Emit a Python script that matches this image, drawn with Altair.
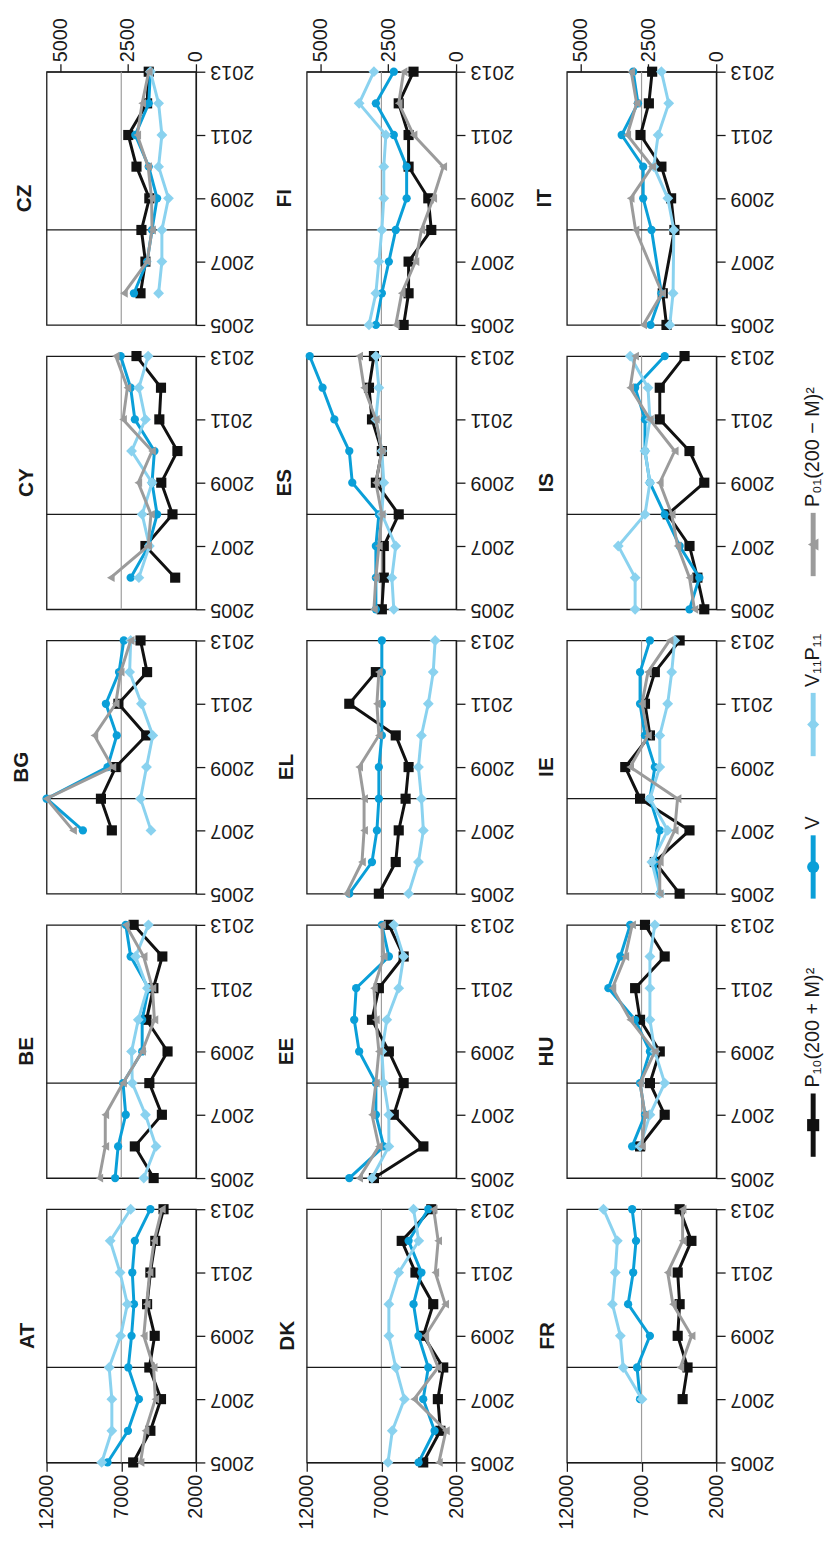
import altair as alt
import pandas as pd

YEARS = [2005, 2006, 2007, 2008, 2009, 2010, 2011, 2012, 2013]
# grid rows (as drawn), left to right
GRID_ROWS = [["CZ", "FI", "IT"],
             ["CY", "ES", "IS"],
             ["BG", "EL", "IE"],
             ["BE", "EE", "HU"],
             ["AT", "DK", "FR"]]

P10 = {
    "AT": [6200, 5050, 4340, 5120, 4760, 5270, 5050, 4720, 4170],
    "BE": [4830, 6090, 4280, 5120, 3900, 5310, 4850, 4250, 6170],
    "BG": [None, None, 7630, 8360, 7370, 5330, 7190, 5270, 5710],
    "CY": [None, 3390, 5380, 3570, 4320, 3240, 4450, 4340, 5980],
    "CZ": [None, 5710, 5380, 5650, 5120, 5980, 6530, 5270, 5160],
    "DK": [4200, 3050, 3220, 2860, 4190, 3530, 4720, 5640, 3660],
    "EE": [7500, 4190, 6170, 5510, 6500, 7630, 7170, 5510, 6500],
    "EL": [7170, 6040, 5840, 5380, 5180, 6040, 9150, 7370, None],
    "ES": [6970, 6840, 6840, 5840, 7370, 6970, 7630, 7830, 7500],
    "FI": [5510, 5180, 5180, 3660, 3860, 5180, 5180, 5840, 4850],
    "FR": [None, None, 4250, 3920, 4580, 4450, 4580, 3660, 4450],
    "HU": [None, 7100, 5450, 6440, 5780, 7100, 7430, 5450, 6770],
    "IE": [4450, 6110, 3790, 7100, 8090, 6440, 6770, 6110, 4450],
    "IS": [2800, 3260, 3790, 5250, 2800, 3790, 5780, 5780, 4120],
    "IT": [5330, 5580, None, 4800, 5020, 5670, 7070, 6510, 6290],
}
V = {
    "AT": [7920, 6550, 5820, 6530, 6310, 6150, 6260, 6090, 5050],
    "BE": [7410, 7210, 6700, 6880, 5600, 5600, 5180, 6370, 6700],
    "BG": [None, None, 9570, 12000, 7920, 7300, 8030, 7150, 6830],
    "CY": [None, 6370, 5160, 4600, 4940, 4780, 6090, 6370, 7040],
    "CZ": [None, 6150, 5270, 4940, 4600, 5160, 6060, 5160, 5050],
    "DK": [4510, 3440, 4200, 3860, 4520, 4850, 4320, 5180, 3860],
    "EE": [9150, 6840, 7370, 7370, 8490, 8820, 8690, 6500, 6970],
    "EL": [9150, 7630, 7300, 7170, 7170, 6970, 6970, 6970, 6970],
    "ES": [7370, 7370, 7370, 7170, 8950, 9150, 10150, 10940, 11800],
    "FI": [7370, 6970, 6500, 6040, 5310, 5310, 6170, 7370, 6170],
    "FR": [None, None, 7100, 7300, 6440, 7900, 7560, 7370, 7630],
    "HU": [None, 7630, 6770, 7100, 6440, 7430, 9220, 8420, 7760],
    "IE": [5780, 6110, 5780, 6440, 6110, 6770, 7100, 7100, 6440],
    "IS": [3790, 3130, 4450, 5450, 6440, 6770, 6770, 7430, 5450],
    "IT": [6400, 5670, None, 6330, 6890, 6890, 8330, 7240, 7560],
}
V11P11 = {
    "AT": [8310, 7630, 7630, 7810, 7040, 6590, 7080, 7740, 6370],
    "BE": [5490, 4670, 5380, 6260, 6310, 5860, 5250, 6040, 5180],
    "BG": [None, None, 5010, 5710, 5310, 4890, 5650, 6440, 6370],
    "CY": [None, 5820, 5120, 5600, 4940, 6310, 5380, 5820, 5200],
    "CZ": [None, 4500, 4280, 4280, 3840, 4500, 4280, 4500, 5050],
    "DK": [6560, 6270, 5460, 6040, 6500, 6500, 5840, 4500, 4850],
    "EE": [7630, 6500, 6500, 6840, 6970, 6640, 5840, 5510, 6170],
    "EL": [5180, 4520, 4190, 4320, 4520, 4320, 3860, 3530, 3400],
    "ES": [6170, 6300, 6040, 6970, 6840, 6970, 7370, 7170, 7370],
    "FI": [7830, 7370, 7170, 6970, 6840, 6840, 6700, 8490, 7500],
    "FR": [None, None, 6970, 8230, 8420, 8950, 8760, 8620, 9550],
    "HU": [None, 7100, 6440, 5450, 6110, 6440, 6440, 6440, 6110],
    "IE": [5780, 6310, 5250, 6440, 5780, 5780, 5250, 4980, 4780],
    "IS": [7430, 7430, 8560, 6770, 6440, 6770, 6440, 6570, 7760],
    "IT": [5110, 4890, None, 4840, 5240, 6180, 5890, 5180, 5670],
}
P01 = {
    "AT": [5710, 5380, 4720, 4830, 5490, 5300, 5100, 4800, 4280],
    "BE": [8470, 8070, 8070, 6880, 5600, 4780, 4910, 5500, 6700],
    "BG": [None, None, 10230, 12000, 7590, 8800, 7370, 7040, 6370],
    "CY": [None, 7700, 5200, 5010, 5860, 4940, 6880, 6590, 7370],
    "CZ": [None, 6820, 5270, 4940, 4970, 5200, 5930, 5600, 5160],
    "DK": [3150, 2680, 4810, 3200, 4060, 2730, 3390, 3200, 3500],
    "EE": [8490, 7170, 7630, 7370, 7170, 7370, 7500, 6840, 6970],
    "EL": [9350, 8300, 8160, 8160, 8490, 7170, 7300, 7170, None],
    "ES": [7500, 7370, 7170, 6970, 7370, 6970, 7370, 8160, 8490],
    "FI": [6040, 5640, 4720, 4320, 3530, 2860, 4850, 5840, 5510],
    "FR": [None, None, None, 4400, 3650, 4900, 5250, 4250, 4250],
    "HU": [None, 6970, 6770, 7100, 6110, 7760, 8950, 8090, 7630],
    "IE": [5780, 5780, 4780, 4590, 7760, 6570, 6970, 6570, 5120],
    "IS": [3460, 3790, 4590, 4980, 5780, 4780, 6440, 7760, 7430],
    "IT": [6890, 5620, None, 7400, 7730, 6290, 7960, 7330, 7690],
}

SERIES = ["P10", "V", "V11P11", "P01"]
SERIES_LABELS = ["P\u2081\u2080(200 + M)\u00b2", "V", "V\u2081\u2081P\u2081\u2081", "P\u2080\u2081(200 \u2212 M)\u00b2"]
YEAR_TICKS = [2005, 2007, 2009, 2011, 2013]
VALUE_TICKS = [2000, 7000, 12000]
VALUE_DOMAIN = [2000, 12000]
ALT_TICKS = [0, 2500, 5000]
ALT_DOMAIN = [0, 5500]
REF_VALUE = 7000
BREAK_YEAR = 2008

# ---- styles / layout ----
FONT = "Liberation Sans"
INK = "#1a1a1a"
STYLE = {
    "P10": dict(color="#111111", shape="square", size=105),
    "V": dict(color="#0a9fd8", shape="circle", size=70),
    "V11P11": dict(color="#8ad2ef", shape="diamond", size=120),
    "P01": dict(color="#9b9b9b", shape="triangle-left", size=80),
}
W, H = 151, 256
ROW_GAP, COL_GAP = 31.5, 112
TITLE_OFFSET = 9
LEG_CENTER = [1065, 804, 660, 478]   # legend symbol centres (layout, px from top of grid)
LEG_HALF = 32
LEG_H = 5 * H + 4 * ROW_GAP

tables = {"P10": P10, "V": V, "V11P11": V11P11, "P01": P01}
rows = []
for s in SERIES:
    for cc, vals in tables[s].items():
        for yr, v in zip(YEARS, vals):
            if v is not None:
                rows.append({"country": cc, "series": s, "year": yr, "value": v})
df = pd.DataFrame(rows)

yscale = alt.Scale(domain=[YEARS[0], YEARS[-1]], nice=False, zero=False)
yaxis = alt.Axis(orient="right", values=YEAR_TICKS, format="d", labelAngle=180,
                 labelAlign="right", labelBaseline="middle", grid=False, title=None,
                 tickSize=9, labelPadding=5)
xscale = alt.Scale(domain=VALUE_DOMAIN, reverse=True, nice=False, zero=False)


def panel(cc, top, bottom):
    d = df[df.country == cc]
    Y = alt.Y("year:Q", scale=yscale, axis=yaxis)
    layers = []
    bottom_axis = alt.Axis(orient="bottom", values=VALUE_TICKS, format="d", labelAngle=270,
                           labelAlign="right", labelBaseline="middle", grid=False,
                           title=None, tickSize=9, labelPadding=3) if bottom else None
    ref = alt.Chart(pd.DataFrame({"value": [REF_VALUE]})).mark_rule(
        color="#9d9d9d", strokeWidth=1.2).encode(
        x=alt.X("value:Q", scale=xscale, axis=bottom_axis))
    layers.append(ref)
    brk = alt.Chart(pd.DataFrame({"year": [BREAK_YEAR]})).mark_rule(
        color=INK, strokeWidth=1.3).encode(y=Y)
    layers.append(brk)
    for s in SERIES:
        st = STYLE[s]
        ds = d[d.series == s]
        base = alt.Chart(ds).encode(
            x=alt.X("value:Q", scale=xscale, axis=None), y=Y, order="year:Q")
        layers.append(base.mark_line(color=st["color"], strokeWidth=3))
        layers.append(base.mark_point(shape=st["shape"], size=st["size"], filled=True,
                                      color=st["color"], opacity=1))
    if top:
        ax = alt.Chart(pd.DataFrame({"alt": ALT_DOMAIN})).mark_point(opacity=0).encode(
            x=alt.X("alt:Q", scale=alt.Scale(domain=ALT_DOMAIN, reverse=True, nice=False, zero=False),
                    axis=alt.Axis(orient="top", values=ALT_TICKS, format="d", labelAngle=270,
                                  labelAlign="left", labelBaseline="middle", grid=False,
                                  title=None, tickSize=8, labelPadding=2)))
        layers.append(ax)
    # bottom-row panels have axis labels reaching ~10px left of the frame
    off = TITLE_OFFSET - 10 if bottom else TITLE_OFFSET
    return alt.layer(*layers).resolve_scale(x="independent").properties(
        width=W, height=H,
        title=alt.TitleParams(text=cc, orient="left", angle=270, anchor="middle",
                              fontSize=21, fontWeight="bold", font=FONT, color=INK,
                              offset=off))


panels = []
for r, row in enumerate(GRID_ROWS):
    for cc in row:
        panels.append(panel(cc, r == 0, r == len(GRID_ROWS) - 1))
grid = alt.concat(*panels, columns=3, spacing={"row": ROW_GAP, "column": COL_GAP},
                  bounds="flush")

leg = pd.DataFrame({"series": SERIES, "label": SERIES_LABELS, "c": LEG_CENTER})
leg["y0"] = leg["c"] - LEG_HALF
leg["y1"] = leg["c"] + LEG_HALF
leg["yt"] = leg["y0"] - 6
lscale = alt.Scale(domain=[0, LEG_H], reverse=True, nice=False, zero=False)
lcolor = alt.Color("series:N", scale=alt.Scale(domain=SERIES, range=[STYLE[s]["color"] for s in SERIES]),
                   legend=None)
lshape = alt.Shape("series:N", scale=alt.Scale(domain=SERIES, range=[STYLE[s]["shape"] for s in SERIES]),
                   legend=None)
lbase = alt.Chart(leg).encode(x=alt.value(15))
legend = alt.layer(
    lbase.mark_rule(strokeWidth=5).encode(y=alt.Y("y0:Q", scale=lscale, axis=None), y2="y1:Q", color=lcolor),
    lbase.mark_point(filled=True, size=150, opacity=1).encode(
        y=alt.Y("c:Q", scale=lscale, axis=None), color=lcolor, shape=lshape),
    lbase.mark_text(angle=270, align="left", baseline="middle", fontSize=20, font=FONT,
                    color=INK).encode(y=alt.Y("yt:Q", scale=lscale, axis=None), text="label:N"),
).properties(width=30, height=LEG_H, view=alt.ViewBackground(strokeWidth=0))

chart = alt.hconcat(grid, legend, spacing=23).properties(
    padding={"left": 2, "top": 0, "right": 0, "bottom": 0}
).configure_view(stroke=INK, strokeWidth=1.3).configure_axis(
    labelFont=FONT, labelFontSize=20, labelColor=INK, tickColor=INK, domainColor=INK,
    domainWidth=1.3, tickWidth=1.3, titleFont=FONT)

chart.save("out.html", embed_options={"renderer": "svg", "actions": False})
